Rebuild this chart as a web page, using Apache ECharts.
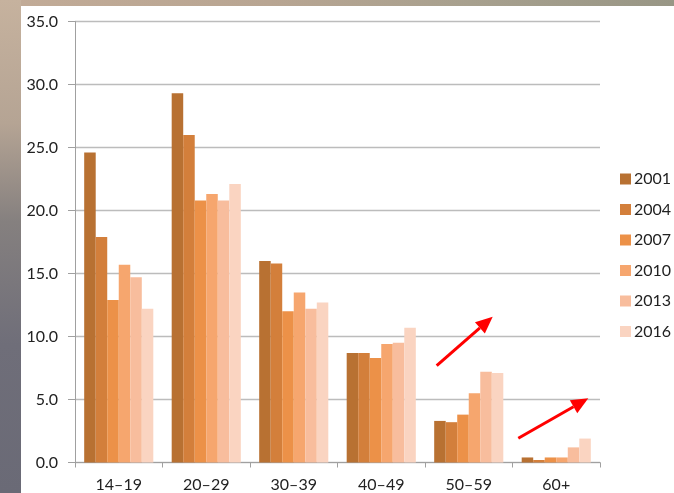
<!DOCTYPE html>
<html>
<head>
    <meta charset="utf-8">
    <title>Age groups 2001-2016</title>
    <script src="https://cdn.jsdelivr.net/npm/echarts@6/dist/echarts.min.js"></script>
    <style>
        body { margin: 0; }
    </style>
</head>
<body>
    <div id="main" style="width: 674px;height:493px;"></div>
    <script type="text/javascript">
        // 数据
        var categories = ['14–19', '20–29', '30–39', '40–49', '50–59', '60+'];
        var years = ['2001', '2004', '2007', '2010', '2013', '2016'];
        var y2001 = [24.6, 29.3, 16.0, 8.7, 3.3, 0.4];
        var y2004 = [17.9, 26.0, 15.8, 8.7, 3.2, 0.2];
        var y2007 = [12.9, 20.8, 12.0, 8.3, 3.8, 0.4];
        var y2010 = [15.7, 21.3, 13.5, 9.4, 5.5, 0.4];
        var y2013 = [14.7, 20.8, 12.2, 9.5, 7.2, 1.2];
        var y2016 = [12.2, 22.1, 12.7, 10.7, 7.1, 1.9];
        var yTicks = [0, 5, 10, 15, 20, 25, 30, 35];
        var colors = ['#b87132', '#d37f3b', '#ec9148', '#f6a66e', '#f8bd9d', '#fad4c1'];

        var myChart = echarts.init(document.getElementById('main'));

        var allValues = [y2001, y2004, y2007, y2010, y2013, y2016];
        var series = years.map(function (y, i) {
            return {
                name: y,
                type: 'bar',
                barGap: '0%',
                barCategoryGap: '21%',
                itemStyle: { color: colors[i] },
                data: allValues[i]
            };
        });

        // 红色箭头（注释）
        function arrow(x1, y1, x2, y2) {
            var ang = Math.atan2(y2 - y1, x2 - x1);
            var len = 17, half = 7.5;
            var bx = x2 - len * Math.cos(ang), by = y2 - len * Math.sin(ang);
            var px = -Math.sin(ang) * half, py = Math.cos(ang) * half;
            return [{
                type: 'line',
                shape: { x1: x1, y1: y1, x2: bx, y2: by },
                style: { stroke: '#ff0000', lineWidth: 3 },
                z: 100
            }, {
                type: 'polygon',
                shape: { points: [[x2, y2], [bx + px, by + py], [bx - px, by - py]] },
                style: { fill: '#ff0000' },
                z: 100
            }];
        }

        var option = {
            backgroundColor: '#ffffff',
            textStyle: { fontFamily: 'Lato' },
            grid: { left: 75, right: 74, top: 21.5, bottom: 30.5 },
            legend: {
                orient: 'vertical',
                left: 620,
                top: 171,
                padding: 0,
                itemWidth: 11,
                itemHeight: 11,
                itemGap: 14.5,
                icon: 'rect',
                data: years,
                textStyle: { fontSize: 16, color: '#222', fontFamily: 'Lato', lineHeight: 16, padding: [0, 0, 0, -2] }
            },
            xAxis: {
                type: 'category',
                data: categories,
                axisLine: { lineStyle: { color: '#a0a0a0', width: 1 } },
                axisTick: { show: true, length: 5, lineStyle: { color: '#a0a0a0' } },
                axisLabel: { fontSize: 16, color: '#222', margin: 14, fontFamily: 'Lato' }
            },
            yAxis: {
                type: 'value',
                min: yTicks[0],
                max: yTicks[yTicks.length - 1],
                interval: 5,
                axisLine: { show: true, lineStyle: { color: '#a0a0a0', width: 1 } },
                axisTick: { show: true, length: 7, lineStyle: { color: '#a0a0a0' } },
                axisLabel: {
                    fontSize: 16, color: '#222', margin: 17, fontFamily: 'Lato',
                    formatter: function (v) { return v.toFixed(1); }
                },
                splitLine: { lineStyle: { color: '#bcbcbc', width: 1.3 } }
            },
            graphic: [{
                type: 'rect',
                shape: { x: 0, y: 0, width: 674, height: 6 },
                style: {
                    fill: new echarts.graphic.LinearGradient(0, 0, 1, 0, [
                        { offset: 0, color: '#c2ab97' },
                        { offset: 0.4, color: '#b8a592' },
                        { offset: 0.7, color: '#a7a08e' },
                        { offset: 1, color: '#989685' }
                    ])
                },
                z: 50
            }, {
                type: 'rect',
                shape: { x: 0, y: 0, width: 21, height: 493 },
                style: {
                    fill: new echarts.graphic.LinearGradient(0, 0, 0, 1, [
                        { offset: 0, color: '#c6b29e' },
                        { offset: 0.25, color: '#b5a494' },
                        { offset: 0.45, color: '#85807f' },
                        { offset: 0.7, color: '#6f6e79' },
                        { offset: 1, color: '#6a6a76' }
                    ])
                },
                z: 50
            }].concat(arrow(436.7, 365.7, 492.7, 316.7), arrow(518.3, 438.3, 588.3, 398.3)),
            series: series
        };

        myChart.setOption(option);
    </script>
</body>
</html>
